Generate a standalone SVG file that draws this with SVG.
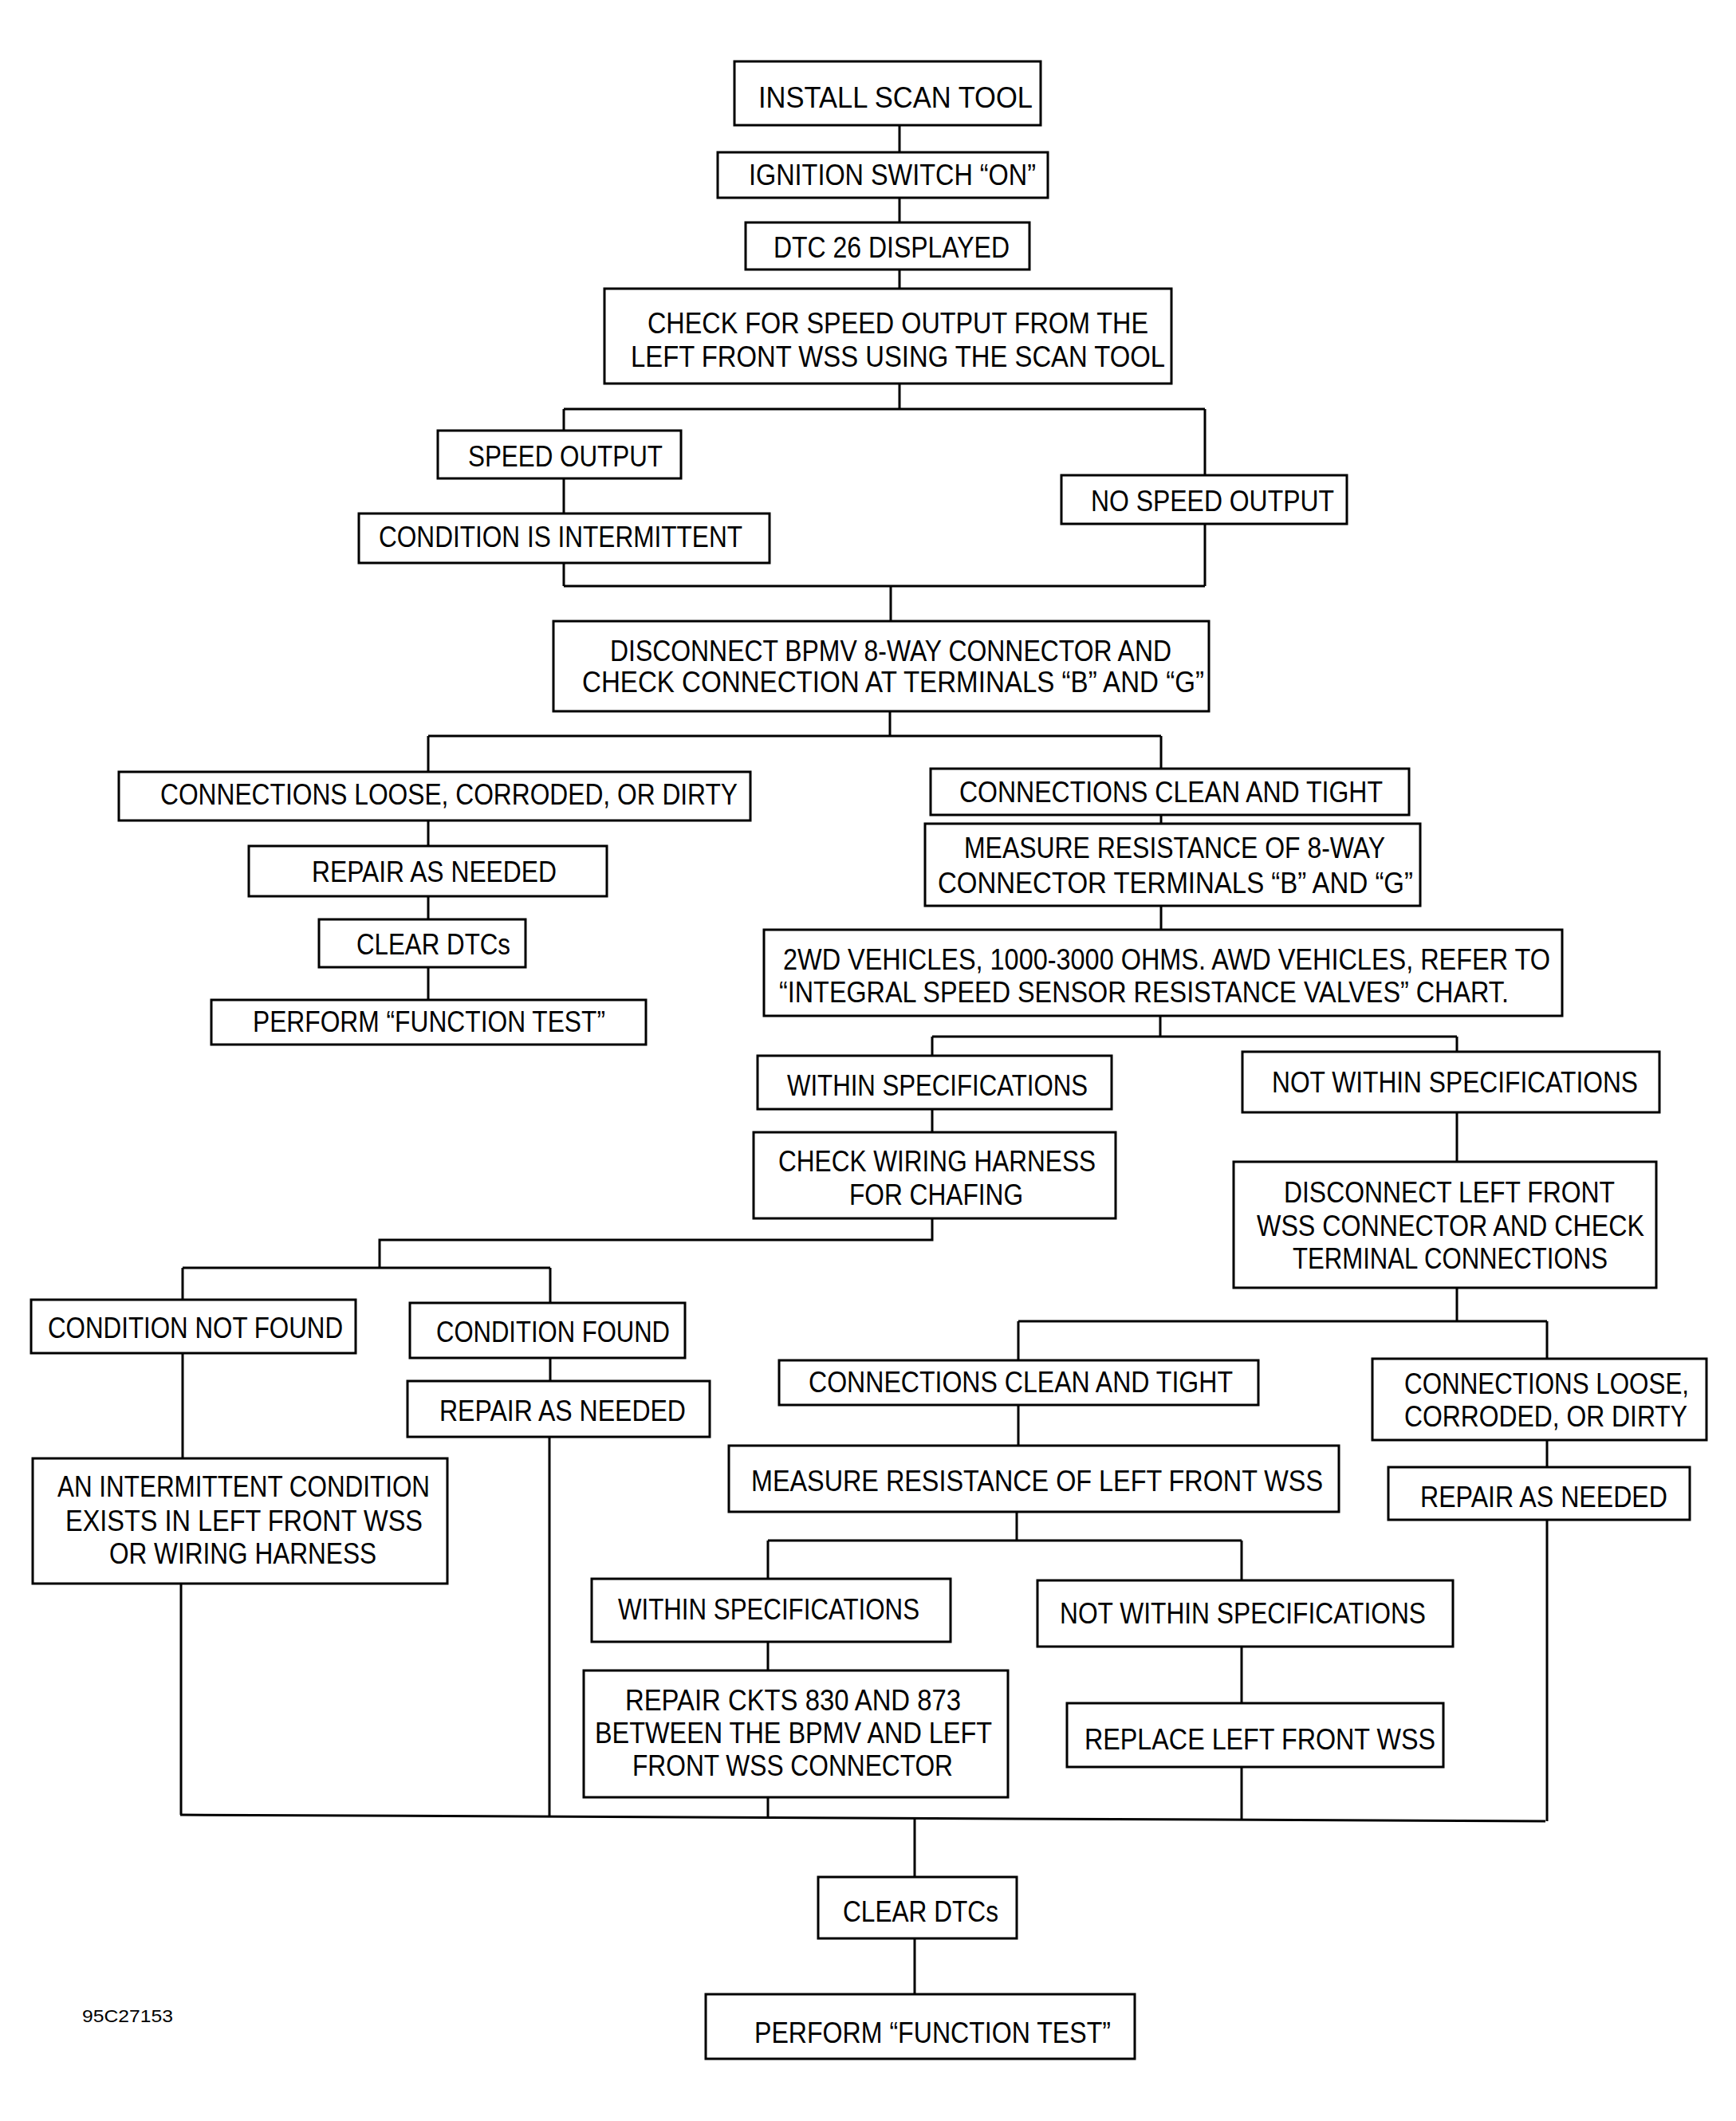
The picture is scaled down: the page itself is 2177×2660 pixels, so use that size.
<svg xmlns="http://www.w3.org/2000/svg" width="2177" height="2660" viewBox="0 0 2177 2660">
<style>
.b{fill:#fff;stroke:#000;stroke-width:3}
.c{fill:none;stroke:#000;stroke-width:3}
text{font-family:"Liberation Sans",Arial,sans-serif;font-size:37px;fill:#000}
.s{font-size:22px}
</style>
<rect width="2177" height="2660" fill="#fff"/>
<g id="connectors" class="c">
<path d="M1128 157V191M1128 248V279M1128 338V362M1128 481V513"/>
<path d="M707 513H1511M707 513V540M1511 513V596M707 600V644M707 706V735M1511 657V735M707 735H1511M1117 735V779"/>
<path d="M1116 892V923M537 923H1456M537 923V968M537 1029V1061M537 1124V1153M537 1213V1254"/>
<path d="M1456 923V964M1456 1022V1033M1456 1136V1166M1455 1274V1300M1169 1300H1827M1169 1300V1324M1827 1300V1319"/>
<path d="M1169 1391V1420M1169 1528V1555H476V1590M229 1590H690M229 1590V1630M690 1590V1634M690 1703V1732"/>
<path d="M229 1697V1829M227 1986V2276M689 1802V2277"/>
<path d="M1827 1395V1457M1827 1615V1657M1277 1657H1940M1277 1657V1706M1940 1657V1704M1277 1762V1813M1940 1806V1840M1940 1906V2284"/>
<path d="M1275 1896V1932M963 1932H1557M963 1932V1980M1557 1932V1982M963 2059V2095M963 2254V2279M1557 2065V2136M1557 2216V2282"/>
<path d="M226 2276L1938 2284"/>
<path d="M1147 2280V2354M1147 2431V2501"/>
</g>
<g id="n1"><rect class="b" x="921" y="77" width="384" height="80"/><text x="951" y="135" textLength="344" lengthAdjust="spacingAndGlyphs">INSTALL SCAN TOOL</text></g>
<g id="n2"><rect class="b" x="900" y="191" width="414" height="57"/><text x="939" y="232" textLength="360" lengthAdjust="spacingAndGlyphs">IGNITION SWITCH “ON”</text></g>
<g id="n3"><rect class="b" x="935" y="279" width="356" height="59"/><text x="970" y="323" textLength="296" lengthAdjust="spacingAndGlyphs">DTC 26 DISPLAYED</text></g>
<g id="n4"><rect class="b" x="758" y="362" width="711" height="119"/><text x="812" y="418" textLength="628" lengthAdjust="spacingAndGlyphs">CHECK FOR SPEED OUTPUT FROM THE</text><text x="791" y="460" textLength="670" lengthAdjust="spacingAndGlyphs">LEFT FRONT WSS USING THE SCAN TOOL</text></g>
<g id="n5"><rect class="b" x="549" y="540" width="305" height="60"/><text x="587" y="585" textLength="244" lengthAdjust="spacingAndGlyphs">SPEED OUTPUT</text></g>
<g id="n6"><rect class="b" x="450" y="644" width="515" height="62"/><text x="475" y="686" textLength="456" lengthAdjust="spacingAndGlyphs">CONDITION IS INTERMITTENT</text></g>
<g id="n7"><rect class="b" x="1331" y="596" width="358" height="61"/><text x="1368" y="641" textLength="305" lengthAdjust="spacingAndGlyphs">NO SPEED OUTPUT</text></g>
<g id="n8"><rect class="b" x="694" y="779" width="822" height="113"/><text x="765" y="829" textLength="704" lengthAdjust="spacingAndGlyphs">DISCONNECT BPMV 8-WAY CONNECTOR AND</text><text x="730" y="868" textLength="780" lengthAdjust="spacingAndGlyphs">CHECK CONNECTION AT TERMINALS “B” AND “G”</text></g>
<g id="n9"><rect class="b" x="149" y="968" width="792" height="61"/><text x="201" y="1009" textLength="724" lengthAdjust="spacingAndGlyphs">CONNECTIONS LOOSE, CORRODED, OR DIRTY</text></g>
<g id="n10"><rect class="b" x="312" y="1061" width="449" height="63"/><text x="391" y="1106" textLength="307" lengthAdjust="spacingAndGlyphs">REPAIR AS NEEDED</text></g>
<g id="n11"><rect class="b" x="400" y="1153" width="259" height="60"/><text x="447" y="1197" textLength="193" lengthAdjust="spacingAndGlyphs">CLEAR DTCs</text></g>
<g id="n12"><rect class="b" x="265" y="1254" width="545" height="56"/><text x="317" y="1294" textLength="442" lengthAdjust="spacingAndGlyphs">PERFORM “FUNCTION TEST”</text></g>
<g id="n13"><rect class="b" x="1167" y="964" width="600" height="58"/><text x="1203" y="1006" textLength="531" lengthAdjust="spacingAndGlyphs">CONNECTIONS CLEAN AND TIGHT</text></g>
<g id="n14"><rect class="b" x="1160" y="1033" width="621" height="103"/><text x="1209" y="1076" textLength="528" lengthAdjust="spacingAndGlyphs">MEASURE RESISTANCE OF 8-WAY</text><text x="1176" y="1120" textLength="596" lengthAdjust="spacingAndGlyphs">CONNECTOR TERMINALS “B” AND “G”</text></g>
<g id="n15"><rect class="b" x="958" y="1166" width="1001" height="108"/><text x="982" y="1216" textLength="962" lengthAdjust="spacingAndGlyphs">2WD VEHICLES, 1000-3000 OHMS. AWD VEHICLES, REFER TO</text><text x="977" y="1257" textLength="915" lengthAdjust="spacingAndGlyphs">“INTEGRAL SPEED SENSOR RESISTANCE VALVES” CHART.</text></g>
<g id="n16"><rect class="b" x="950" y="1324" width="444" height="67"/><text x="987" y="1374" textLength="377" lengthAdjust="spacingAndGlyphs">WITHIN SPECIFICATIONS</text></g>
<g id="n17"><rect class="b" x="1558" y="1319" width="523" height="76"/><text x="1595" y="1370" textLength="459" lengthAdjust="spacingAndGlyphs">NOT WITHIN SPECIFICATIONS</text></g>
<g id="n18"><rect class="b" x="945" y="1420" width="454" height="108"/><text x="976" y="1469" textLength="398" lengthAdjust="spacingAndGlyphs">CHECK WIRING HARNESS</text><text x="1065" y="1511" textLength="218" lengthAdjust="spacingAndGlyphs">FOR CHAFING</text></g>
<g id="n19"><rect class="b" x="1547" y="1457" width="530" height="158"/><text x="1610" y="1508" textLength="415" lengthAdjust="spacingAndGlyphs">DISCONNECT LEFT FRONT</text><text x="1576" y="1550" textLength="486" lengthAdjust="spacingAndGlyphs">WSS CONNECTOR AND CHECK</text><text x="1621" y="1591" textLength="395" lengthAdjust="spacingAndGlyphs">TERMINAL CONNECTIONS</text></g>
<g id="n20"><rect class="b" x="39" y="1630" width="407" height="67"/><text x="60" y="1678" textLength="370" lengthAdjust="spacingAndGlyphs">CONDITION NOT FOUND</text></g>
<g id="n21"><rect class="b" x="514" y="1634" width="345" height="69"/><text x="547" y="1683" textLength="293" lengthAdjust="spacingAndGlyphs">CONDITION FOUND</text></g>
<g id="n22"><rect class="b" x="511" y="1732" width="379" height="70"/><text x="551" y="1782" textLength="309" lengthAdjust="spacingAndGlyphs">REPAIR AS NEEDED</text></g>
<g id="n23"><rect class="b" x="41" y="1829" width="520" height="157"/><text x="72" y="1877" textLength="467" lengthAdjust="spacingAndGlyphs">AN INTERMITTENT CONDITION</text><text x="82" y="1920" textLength="448" lengthAdjust="spacingAndGlyphs">EXISTS IN LEFT FRONT WSS</text><text x="137" y="1961" textLength="335" lengthAdjust="spacingAndGlyphs">OR WIRING HARNESS</text></g>
<g id="n24"><rect class="b" x="977" y="1706" width="601" height="56"/><text x="1014" y="1746" textLength="532" lengthAdjust="spacingAndGlyphs">CONNECTIONS CLEAN AND TIGHT</text></g>
<g id="n25"><rect class="b" x="1721" y="1704" width="419" height="102"/><text x="1761" y="1748" textLength="357" lengthAdjust="spacingAndGlyphs">CONNECTIONS LOOSE,</text><text x="1761" y="1789" textLength="355" lengthAdjust="spacingAndGlyphs">CORRODED, OR DIRTY</text></g>
<g id="n26"><rect class="b" x="914" y="1813" width="765" height="83"/><text x="942" y="1870" textLength="717" lengthAdjust="spacingAndGlyphs">MEASURE RESISTANCE OF LEFT FRONT WSS</text></g>
<g id="n27"><rect class="b" x="1741" y="1840" width="378" height="66"/><text x="1781" y="1890" textLength="310" lengthAdjust="spacingAndGlyphs">REPAIR AS NEEDED</text></g>
<g id="n28"><rect class="b" x="742" y="1980" width="450" height="79"/><text x="775" y="2031" textLength="378" lengthAdjust="spacingAndGlyphs">WITHIN SPECIFICATIONS</text></g>
<g id="n29"><rect class="b" x="1301" y="1982" width="521" height="83"/><text x="1329" y="2036" textLength="459" lengthAdjust="spacingAndGlyphs">NOT WITHIN SPECIFICATIONS</text></g>
<g id="n30"><rect class="b" x="732" y="2095" width="532" height="159"/><text x="784" y="2145" textLength="421" lengthAdjust="spacingAndGlyphs">REPAIR CKTS 830 AND 873</text><text x="746" y="2186" textLength="498" lengthAdjust="spacingAndGlyphs">BETWEEN THE BPMV AND LEFT</text><text x="793" y="2227" textLength="402" lengthAdjust="spacingAndGlyphs">FRONT WSS CONNECTOR</text></g>
<g id="n31"><rect class="b" x="1338" y="2136" width="472" height="80"/><text x="1360" y="2194" textLength="440" lengthAdjust="spacingAndGlyphs">REPLACE LEFT FRONT WSS</text></g>
<g id="n32"><rect class="b" x="1026" y="2354" width="249" height="77"/><text x="1057" y="2410" textLength="195" lengthAdjust="spacingAndGlyphs">CLEAR DTCs</text></g>
<g id="n33"><rect class="b" x="885" y="2501" width="538" height="81"/><text x="946" y="2562" textLength="447" lengthAdjust="spacingAndGlyphs">PERFORM “FUNCTION TEST”</text></g>
<text class="s" x="103" y="2536" textLength="114" lengthAdjust="spacingAndGlyphs">95C27153</text>
</svg>
